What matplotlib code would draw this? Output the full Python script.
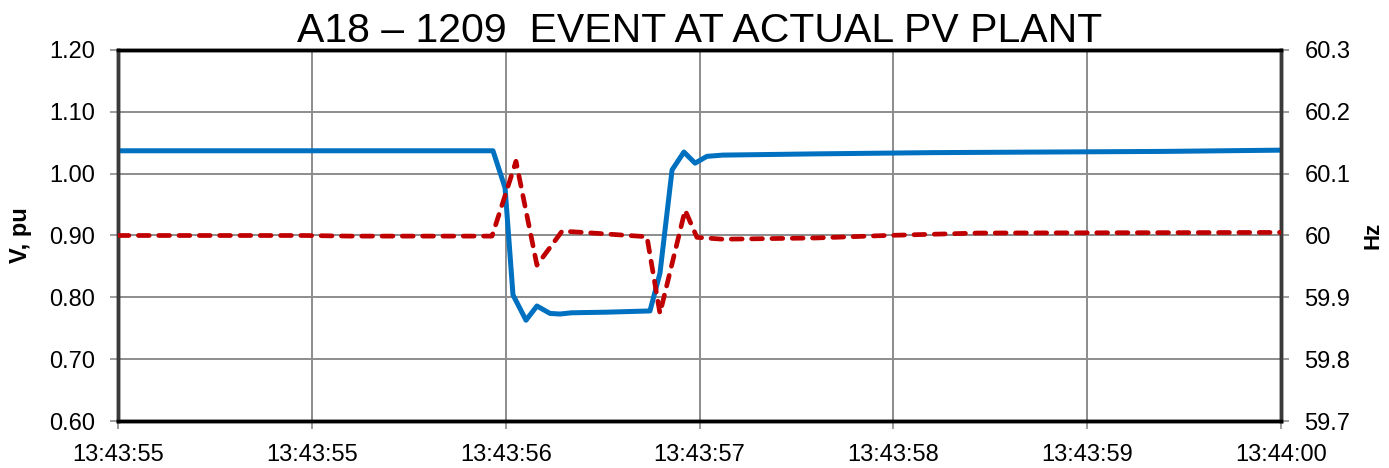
import matplotlib
matplotlib.use('Agg')
import matplotlib.pyplot as plt

plt.rcParams['font.family'] = ['Liberation Sans', 'DejaVu Sans']

# Tiempo en segundos desde 13:43:55
t_volt = [0.0, 1.612, 1.664, 1.698, 1.754, 1.801, 1.857, 1.900, 1.95, 2.10,
          2.287, 2.330, 2.382, 2.433, 2.481, 2.532, 2.60, 3.0, 3.5, 4.0,
          4.5, 5.0]
volt_pu = [1.037, 1.037, 0.977, 0.804, 0.763, 0.786, 0.774, 0.773, 0.775,
           0.776, 0.778, 0.839, 1.006, 1.035, 1.017, 1.028, 1.030, 1.032,
           1.034, 1.035, 1.036, 1.038]

t_freq = [0.0, 0.8, 1.0, 1.608, 1.660, 1.711, 1.801, 1.909, 2.0, 2.274,
          2.330, 2.438, 2.489, 2.6, 3.0, 3.3, 3.7, 5.0]
freq_hz = [60.000, 60.000, 59.999, 59.999, 60.06, 60.12, 59.952, 60.007,
           60.005, 59.998, 59.874, 60.041, 59.997, 59.994, 59.996, 60.000,
           60.004, 60.005]

x_ticks = [0, 5 / 6, 10 / 6, 15 / 6, 20 / 6, 25 / 6, 5]
x_labels = ['13:43:55', '13:43:55', '13:43:56', '13:43:57', '13:43:58',
            '13:43:59', '13:44:00']
v_ticks = [0.60, 0.70, 0.80, 0.90, 1.00, 1.10, 1.20]
f_ticks = [59.7, 59.8, 59.9, 60.0, 60.1, 60.2, 60.3]
f_labels = ['59.7', '59.8', '59.9', '60', '60.1', '60.2', '60.3']

fig = plt.figure(figsize=(13.89, 4.68), dpi=100)
ax = fig.add_axes([0.085, 0.1004, 0.8372, 0.7928])
ax2 = ax.twinx()

ax.plot(t_volt, volt_pu, color='#0070C0', lw=3.6, solid_joinstyle='round',
        zorder=3)
ax2.plot(t_freq, freq_hz, color='#C00000', lw=3.4, dashes=(2.3, 2.0),
         dash_capstyle='round', dash_joinstyle='round', zorder=3)

ax.set_xlim(0, 5)
ax.set_ylim(0.6, 1.2)
ax2.set_ylim(59.7, 60.3)
ax.set_xticks(x_ticks)
ax.set_xticklabels(x_labels)
ax.set_yticks(v_ticks)
ax.set_yticklabels(['%.2f' % v for v in v_ticks])
ax2.set_yticks(f_ticks)
ax2.set_yticklabels(f_labels)

ax.grid(True, color='#8c8c8c', lw=1.4)
ax.set_axisbelow(True)

for a in (ax, ax2):
    a.tick_params(labelsize=17, length=5.8, width=1.2, color='#8c8c8c',
                  direction='out', pad=11)
    for side in ('top', 'bottom'):
        a.spines[side].set_color('black')
        a.spines[side].set_linewidth(2.5)
    for side in ('left', 'right'):
        a.spines[side].set_color('#3a3a3a')
        a.spines[side].set_linewidth(2.5)
ax.tick_params(axis='x', pad=11)

ax.set_ylabel('V, pu', fontsize=17, fontweight='bold', labelpad=12)
ax2.set_ylabel('Hz', fontsize=16, fontweight='bold', rotation=90,
               labelpad=9)
ax.set_title('A18 \u2013 1209  EVENT AT ACTUAL PV PLANT', fontsize=29.5,
             pad=4)

fig.savefig('out.png', dpi=100)
